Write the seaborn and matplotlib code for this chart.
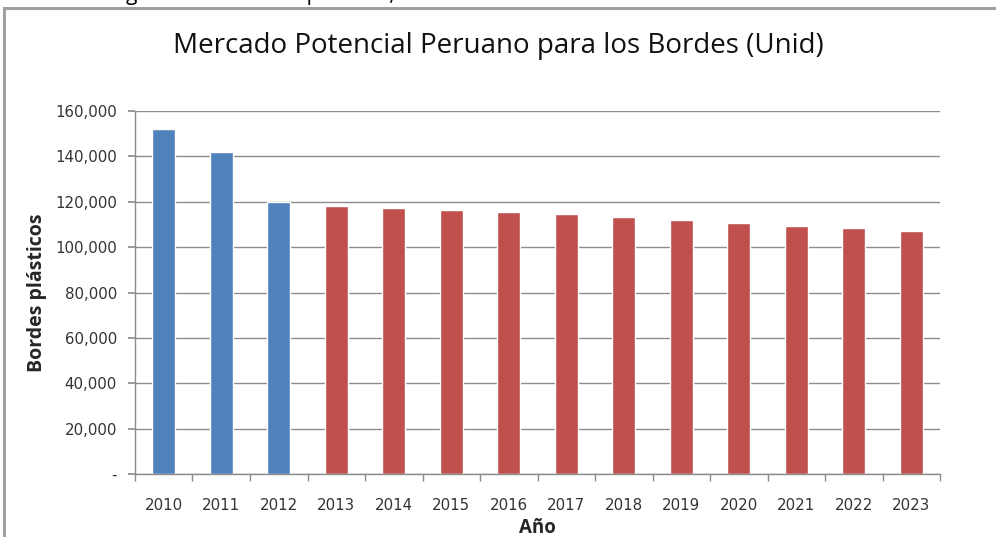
import matplotlib
matplotlib.use("Agg")
import matplotlib.pyplot as plt
import seaborn as sns
import pandas as pd
from matplotlib.patches import Rectangle
from matplotlib.ticker import FuncFormatter

years = ["2010", "2011", "2012", "2013", "2014", "2015", "2016",
         "2017", "2018", "2019", "2020", "2021", "2022", "2023"]
values = [152000, 142000, 120000, 118200, 117200, 116200, 115400,
          114400, 113100, 111900, 110700, 109500, 108300, 107100]
groups = ["Histórico"] * 3 + ["Proyectado"] * 11
palette = {"Histórico": "#4F81BD", "Proyectado": "#C0504D"}

title = "Mercado Potencial Peruano para los Bordes (Unid)"
caption = "Figura 3.2: Mercado peruano, 2010-2023"
ylabel = "Bordes plásticos"
xlabel = "Año"

df = pd.DataFrame({"Año": years, "Valor": values, "Grupo": groups})

sns.set_theme(style="white")
plt.rcParams["font.family"] = ["Open Sans", "DejaVu Sans"]

fig = plt.figure(figsize=(9.96, 5.37), dpi=100)
ax = fig.add_axes([0.1355, 0.1173, 0.8085, 0.6760])

sns.barplot(data=df, x="Año", y="Valor", hue="Grupo", palette=palette,
            dodge=False, width=0.4, legend=False, ax=ax, saturation=1)

ax.set_ylim(0, 160000)
ax.set_xlim(-0.5, len(years) - 0.5)
ax.set_yticks(range(0, 160001, 20000))
ax.yaxis.set_major_formatter(FuncFormatter(lambda v, p: "-" if v == 0 else f"{int(v):,}"))
ax.yaxis.grid(True, color="#8c8c8c", linewidth=1)
ax.set_axisbelow(True)

for s in ["top", "right"]:
    ax.spines[s].set_visible(False)
for s in ["left", "bottom"]:
    ax.spines[s].set_color("#8c8c8c")
    ax.spines[s].set_linewidth(1)

ax.tick_params(axis="y", which="major", left=True, length=5, color="#8c8c8c",
               labelsize=10.8, labelcolor="#333333", pad=8)
ax.set_xticks([i - 0.5 for i in range(len(years) + 1)], minor=True)
ax.tick_params(axis="x", which="major", bottom=False, labelsize=10.8,
               labelcolor="#333333", pad=11)
ax.tick_params(axis="x", which="minor", bottom=True, length=5, color="#8c8c8c")
for lab in ax.get_xticklabels() + ax.get_yticklabels():
    lab.set_family(["DejaVu Sans"])

ax.set_xlabel(xlabel, fontsize=13.5, fontweight="bold", labelpad=4)
ax.set_ylabel(ylabel, fontsize=14, fontweight="bold", labelpad=6)

fig.text(0.5, 1 - 46 / 537, title, ha="center", va="center", fontsize=20, color="#111111")
fig.text(0.110, 1.0, caption, ha="left", va="baseline", fontsize=15, color="black")

fig.patches.append(Rectangle((4 / 996, -0.05), 1.1, 1.05 - 8 / 537, transform=fig.transFigure,
                             fill=False, edgecolor="#a0a0a0", linewidth=2.2))

fig.savefig("out.png", dpi=100)
